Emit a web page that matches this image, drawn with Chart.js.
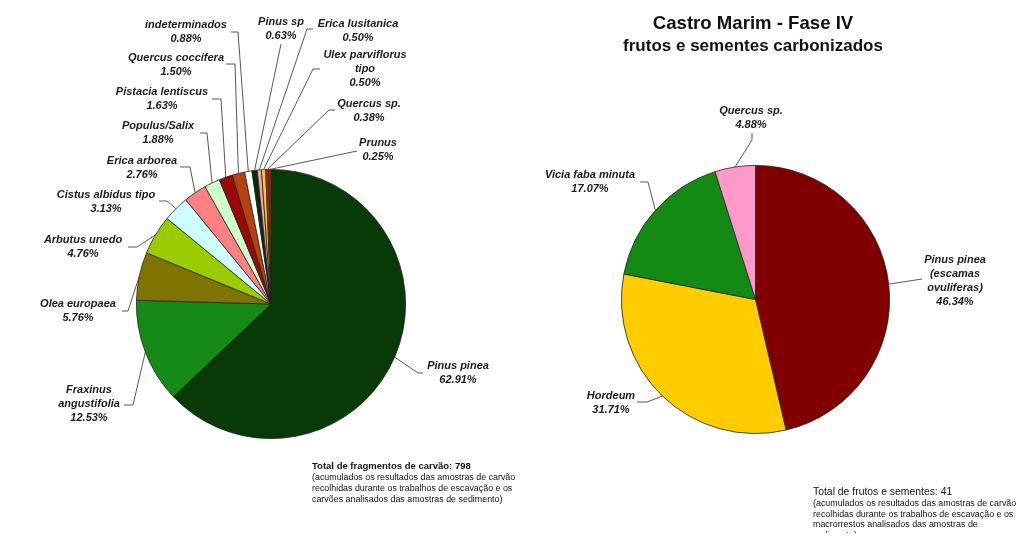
<!DOCTYPE html>
<html><head><meta charset="utf-8">
<script src="https://cdn.jsdelivr.net/npm/chart.js@4"></script>
<style>
html,body{margin:0;padding:0;background:#fff;width:1024px;height:559px;overflow:hidden;font-family:"Liberation Sans",Arial,sans-serif;}
canvas{position:absolute;left:0;top:0;}
.t{position:absolute;color:#111;white-space:nowrap;}
.title{position:absolute;left:553px;width:400px;text-align:center;font-weight:bold;color:#111;}
.note{font-size:8.9px;line-height:11px;}
</style></head><body>
<canvas id="c1" width="1024" height="559"></canvas>
<canvas id="c2" width="1024" height="559"></canvas>
<div class="title" style="top:12px;font-size:18.6px;">Castro Marim - Fase IV</div>
<div class="title" style="top:36px;font-size:17px;">frutos e sementes carbonizados</div>
<div class="t" style="left:312px;top:460px;">
  <div style="font-size:9.5px;font-weight:bold;line-height:12px;">Total de fragmentos de carvão: 798</div>
  <div class="note">(acumulados os resultados das amostras de carvão<br>recolhidas durante os trabalhos de escavação e os<br>carvões analisados das amostras de sedimento)</div>
</div>
<div class="t" style="left:813px;top:486px;">
  <div style="font-size:10.4px;line-height:12px;">Total de frutos e sementes: 41</div>
  <div class="note" style="line-height:10.5px;">(acumulados os resultados das amostras de carvão<br>recolhidas durante os trabalhos de escavação e os<br>macrorrestos analisados das amostras de</div>
  <div class="note" style="height:3px;overflow:hidden;">sedimento)</div>
</div>
<script>
// ---- data ----
const leftCategories = ['Pinus pinea','Fraxinus\nangustifolia','Olea europaea','Arbutus unedo','Cistus albidus tipo','Erica arborea','Populus/Salix','Pistacia lentiscus','Quercus coccifera','indeterminados','Pinus sp','Erica lusitanica','Ulex parviflorus\ntipo','Quercus sp.','Prunus'];
const leftValues = [62.91,12.53,5.76,4.76,3.13,2.76,1.88,1.63,1.50,0.88,0.63,0.50,0.50,0.38,0.25];
const rightCategories = ['Pinus pinea\n(escamas\novuliferas)','Hordeum','Vicia faba minuta','Quercus sp.'];
const rightValues = [46.34,31.71,17.07,4.88];

// ---- styles / layout ----
const leftColors = ['#073a07','#168a16','#807400','#9acc00','#ccffff','#ff8080','#ccffcc','#9c0808','#b8420e','#ffffff','#003300','#ff99cc','#ffcc00','#993300','#ee1c1c'];
const rightColors = ['#800000','#ffcc00','#138a13','#ff99cc'];
const leftLayout = [
  {x:458,y:366,leader:[[423,373],[418,373]]},
  {x:89,y:390,leader:[[124,405],[133,405]]},
  {x:78,y:304,leader:[[122,311],[128,311]]},
  {x:83,y:240,leader:[[128,247],[137,247]]},
  {x:106,y:195,leader:[[159,201],[167,201]]},
  {x:142,y:161,leader:[[180,167],[190,167]]},
  {x:158,y:126,leader:[[200,133],[207,133]]},
  {x:162,y:92,leader:[[212,99],[221,99]]},
  {x:176,y:58,leader:[[226,64],[235,64]]},
  {x:186,y:25,leader:[[231,32],[238,32]]},
  {x:281,y:22,leader:[[281,44]]},
  {x:358,y:24,leader:[[313,29],[307,29]]},
  {x:365,y:55,leader:[[320,69],[313,69]]},
  {x:369,y:104,leader:[[335,110],[329,110]]},
  {x:378,y:143,leader:[[357,151]]}
];
const rightLayout = [
  {x:955,y:260,leader:[[922,279]]},
  {x:611,y:396,leader:[[637,402],[647,402]]},
  {x:590,y:175,leader:[[640,182],[648,182]]},
  {x:751,y:111,leader:[[752,133],[752,140]]}
];

function leaders(layout, names){
  return {
    id:'leaders',
    afterDraw(chart){
      const ctx = chart.ctx;
      const meta = chart.getDatasetMeta(0);
      const vals = chart.data.datasets[0].data;
      ctx.save();
      meta.data.forEach((arc,i)=>{
        const lay = layout[i]; if(!lay) return;
        const p = arc.getProps(['x','y','startAngle','endAngle','outerRadius'], true);
        const mid = (p.startAngle + p.endAngle)/2;
        const px = p.x + Math.cos(mid)*p.outerRadius;
        const py = p.y + Math.sin(mid)*p.outerRadius;
        ctx.strokeStyle = '#444';
        ctx.lineWidth = 0.9;
        ctx.beginPath();
        ctx.moveTo(lay.leader[0][0], lay.leader[0][1]);
        for(let k=1;k<lay.leader.length;k++) ctx.lineTo(lay.leader[k][0], lay.leader[k][1]);
        ctx.lineTo(px, py);
        ctx.stroke();
        const lines = names[i].split('\n').concat([vals[i].toFixed(2)+'%']);
        ctx.fillStyle = '#1a1a1a';
        ctx.font = 'italic bold 11px "Liberation Sans", Arial, sans-serif';
        ctx.textAlign = 'center';
        ctx.textBaseline = 'middle';
        lines.forEach((s,k)=>ctx.fillText(s, lay.x, lay.y + k*14));
      });
      ctx.restore();
    }
  };
}

function makePie(id, labels, values, colors, padding, layout){
  return new Chart(document.getElementById(id), {
    type:'pie',
    data:{labels:labels, datasets:[{data:values, backgroundColor:colors, borderColor:'#222', borderWidth:0.8}]},
    options:{
      responsive:false, animation:false,
      layout:{padding:padding},
      plugins:{legend:{display:false}, tooltip:{enabled:false}, title:{display:false}}
    },
    plugins:[leaders(layout, labels)]
  });
}

makePie('c1', leftCategories, leftValues, leftColors, {left:136,right:618,top:169,bottom:120}, leftLayout);
makePie('c2', rightCategories, rightValues, rightColors, {left:621,right:134,top:165,bottom:125}, rightLayout);
</script>
</body></html>
